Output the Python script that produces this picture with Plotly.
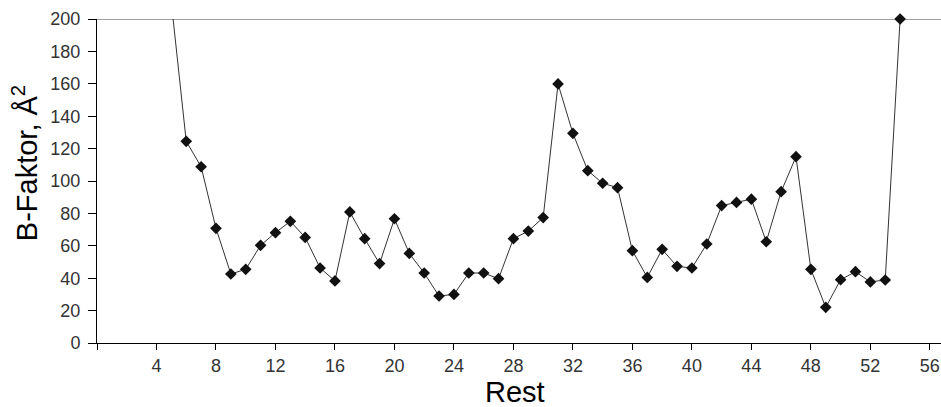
import plotly.graph_objects as go

# B-factor per residue
residues = list(range(5, 55))
b_factor = [
    210, 124.5, 108.8, 70.8, 42.6, 45.5, 60.3, 68.1, 75.1, 65.2,
    46.3, 38.3, 80.9, 64.4, 49.0, 76.7, 55.3, 43.2, 29.0, 30.0,
    43.2, 43.2, 39.7, 64.4, 69.1, 77.4, 159.9, 129.4, 106.4, 98.6,
    95.9, 57.0, 40.5, 57.8, 47.3, 46.3, 61.1, 84.8, 86.8, 88.8,
    62.5, 93.4, 115.0, 45.5, 22.0, 39.1, 44.0, 37.7, 38.9, 200,
]

x_ticks = list(range(0, 57, 4))
x_tick_labels = ["" if v == 0 else str(v) for v in x_ticks]
y_ticks = list(range(0, 201, 20))

Y_MAX = 200
marker_x = [r for r, b in zip(residues, b_factor) if b <= Y_MAX]
marker_y = [b for b in b_factor if b <= Y_MAX]

fig = go.Figure()

# connecting line (clipped at the top of the plot area)
fig.add_trace(go.Scatter(
    x=residues, y=b_factor, mode="lines",
    line=dict(color="#333333", width=1),
    hoverinfo="skip", showlegend=False,
))

# diamond markers, allowed to sit on the frame
fig.add_trace(go.Scatter(
    x=marker_x, y=marker_y, mode="markers",
    marker=dict(symbol="diamond", size=9, color="#111111"),
    cliponaxis=False, showlegend=False,
))

fig.add_shape(
    type="line", xref="paper", yref="y", x0=0, x1=1, y0=Y_MAX, y1=Y_MAX,
    line=dict(color="#a0a0a0", width=2), layer="below",
)

tick_font = dict(family="Liberation Sans, Arial, sans-serif", size=18, color="#333333")

fig.update_xaxes(
    range=[0, 56.75], tickmode="array", tickvals=x_ticks, ticktext=x_tick_labels,
    ticks="outside", ticklen=6, tickcolor="black", tickwidth=1,
    showline=True, linecolor="black", linewidth=1,
    showgrid=False, zeroline=False, tickfont=tick_font,
)
fig.update_yaxes(
    range=[0, Y_MAX], tickmode="array", tickvals=y_ticks,
    ticks="outside", ticklen=8, tickcolor="black", tickwidth=1,
    ticklabelstandoff=4,
    showline=True, linecolor="black", linewidth=1,
    showgrid=False, zeroline=False, tickfont=tick_font,
)

title_font = dict(family="Liberation Sans, Arial, sans-serif", size=29, color="black")

fig.add_annotation(
    text="Rest", xref="paper", yref="paper", x=0.5, y=0,
    xanchor="center", yanchor="middle", yshift=-49, xshift=-4,
    showarrow=False, font=title_font,
)
fig.add_annotation(
    text="B-Faktor, Å<sup>2</sup>", xref="paper", yref="paper", x=0, y=0.555,
    xanchor="center", yanchor="middle", xshift=-72, textangle=-90,
    showarrow=False, font=title_font,
)

fig.update_layout(
    width=941, height=407,
    margin=dict(l=97, r=0, t=19, b=64),
    plot_bgcolor="white", paper_bgcolor="white",
    showlegend=False,
)

fig.write_html("out.html")
